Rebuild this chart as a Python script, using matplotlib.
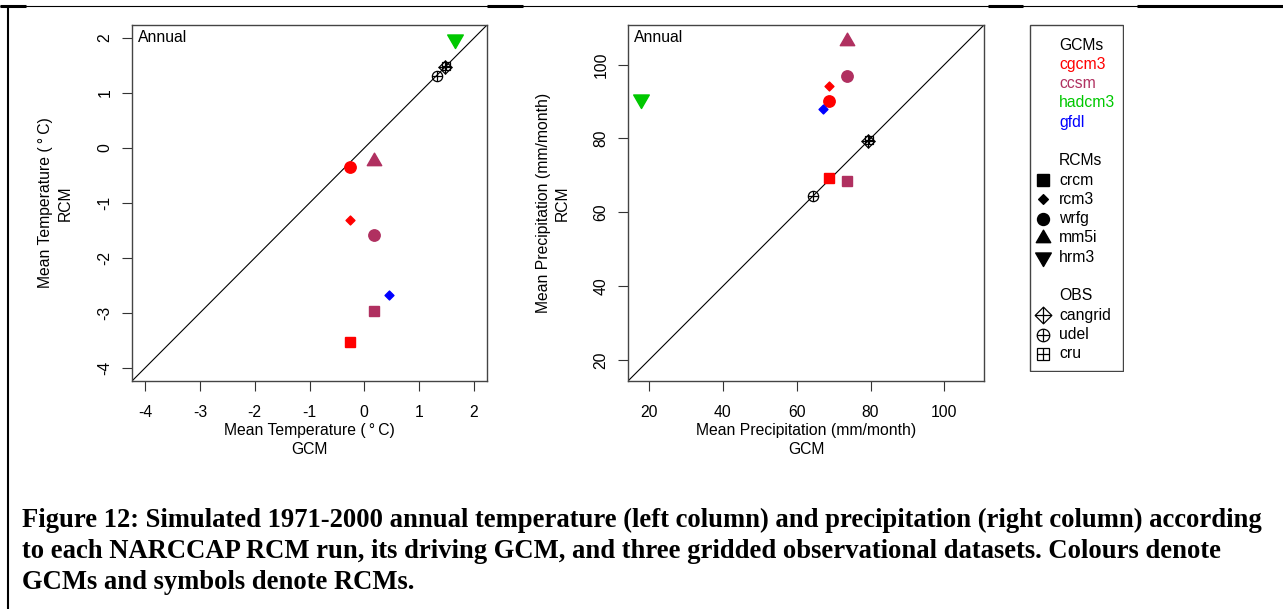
import matplotlib
matplotlib.use("Agg")
import matplotlib.pyplot as plt
from matplotlib.lines import Line2D
from matplotlib.path import Path
from matplotlib.patches import Rectangle

plt.rcParams['font.family'] = ['Liberation Sans', 'DejaVu Sans']

# ---- data -------------------------------------------------------------
gcm_names = ['cgcm3', 'ccsm', 'hadcm3', 'gfdl']
gcm_colors = ['#FF0000', '#B03060', '#00C800', '#0000FF']
rcm_names = ['crcm', 'rcm3', 'wrfg', 'mm5i', 'hrm3']
obs_names = ['cangrid', 'udel', 'cru']

# NARCCAP runs: driving GCM and RCM for each
run_gcm = ['cgcm3', 'cgcm3', 'cgcm3', 'ccsm', 'ccsm', 'ccsm', 'hadcm3', 'gfdl']
run_rcm = ['crcm', 'rcm3', 'wrfg', 'crcm', 'wrfg', 'mm5i', 'hrm3', 'rcm3']

# annual mean temperature (deg C)
temp_gcm = {'cgcm3': -0.26, 'ccsm': 0.17, 'hadcm3': 1.66, 'gfdl': 0.46}
temp_rcm = [-3.53, -1.31, -0.35, -2.97, -1.58, -0.23, 1.99, -2.68]
temp_obs = [1.47, 1.32, 1.50]

# annual mean precipitation (mm/month)
prec_gcm = {'cgcm3': 68.9, 'ccsm': 73.7, 'hadcm3': 18.0, 'gfdl': 67.2}
prec_rcm = [69.3, 94.3, 90.1, 68.4, 97.0, 106.5, 90.6, 88.0]
prec_obs = [79.3, 64.4, 79.5]

# ---- marker shapes ------------------------------------------------------
tri_up = Path([(0, 1), (0.866, -0.5), (-0.866, -0.5), (0, 1)], closed=True)
tri_dn = Path([(0, -1), (0.866, 0.5), (-0.866, 0.5), (0, -1)], closed=True)
diam = Path([(0, 1), (1, 0), (0, -1), (-1, 0), (0, 1)], closed=True)

rcm_style = {
    'crcm': dict(marker='s', ms=7.5),
    'rcm3': dict(marker=diam, ms=6.4),
    'wrfg': dict(marker='o', ms=8.2),
    'mm5i': dict(marker=tri_up, ms=12.0),
    'hrm3': dict(marker=tri_dn, ms=13.0),
}
gcm_color = dict(zip(gcm_names, gcm_colors))

W, H = 1283, 609
fig = plt.figure(figsize=(W / 100, H / 100), dpi=100)


def px_ax(x0, y0, x1, y1):
    return fig.add_axes([x0 / W, 1 - y1 / H, (x1 - x0) / W, (y1 - y0) / H])


def draw_obs(ax, name, v, scale=1.0, lw=0.9):
    kw = dict(color='black', mfc='none', mew=lw, ls='none', zorder=4)
    if name == 'cangrid':
        ax.plot([v], [v], marker=diam, ms=9.4 * scale, **kw)
        ax.plot([v], [v], marker='+', ms=9.4 * scale, **kw)
    elif name == 'udel':
        ax.plot([v], [v], marker='o', ms=7.4 * scale, **kw)
        ax.plot([v], [v], marker='+', ms=7.4 * scale, **kw)
    else:
        ax.plot([v], [v], marker='s', ms=6.4 * scale, **kw)
        ax.plot([v], [v], marker='+', ms=6.4 * scale, **kw)


def panel(ax, gvals, rvals, ovals, lims, ticks):
    ax.set_xlim(lims)
    ax.set_ylim(lims)
    ax.axline((lims[0], lims[0]), slope=1, color='black', lw=0.8, zorder=1)
    for g, r, v in zip(run_gcm, run_rcm, rvals):
        st = rcm_style[r]
        ax.plot([gvals[g]], [v], ls='none', marker=st['marker'], ms=st['ms'],
                color=gcm_color[g], mec=gcm_color[g], zorder=3)
    for name, v in zip(obs_names, ovals):
        draw_obs(ax, name, v)
    ax.set_xticks(ticks)
    ax.set_yticks(ticks)
    ax.set_xticklabels([str(t) for t in ticks])
    ax.set_yticklabels([str(t) for t in ticks], rotation=90, va='center')
    ax.tick_params(length=7, width=0.8, color='#333333', labelsize=11.3)
    ax.tick_params(axis='x', pad=10)
    ax.tick_params(axis='y', pad=7)
    for s in ax.spines.values():
        s.set_color('#444444')
        s.set_linewidth(1.0)
    ax.text(0.018, 0.985, 'Annual', transform=ax.transAxes, fontsize=11.3,
            ha='left', va='top')


ax1 = px_ax(132, 25, 487, 381)
panel(ax1, temp_gcm, temp_rcm, temp_obs, (-4.24, 2.24),
      [-4, -3, -2, -1, 0, 1, 2])
ax2 = px_ax(628, 25, 984, 381)
panel(ax2, prec_gcm, prec_rcm, prec_obs, (14.4, 110.7),
      [20, 40, 60, 80, 100])


def ftext(x, y, s, **kw):
    fig.text(x / W, 1 - y / H, s, **kw)


tlabel = 'Mean Temperature (\u2009°\u2009C)'
plabel = 'Mean Precipitation (mm/month)'
# axis titles (two lines each)
ftext(309.5, 430, tlabel, ha='center', va='center', fontsize=11.3)
ftext(309.5, 449.3, 'GCM', ha='center', va='center', fontsize=11.3)
ftext(45.7, 203, tlabel, ha='center', va='center', rotation=90, fontsize=11.3)
ftext(65, 203, 'RCM', ha='center', va='center', rotation=90, fontsize=11.3)
ftext(806, 430, plabel, ha='center', va='center', fontsize=11.3)
ftext(806, 449.3, 'GCM', ha='center', va='center', fontsize=11.3)
ftext(543.3, 203, plabel, ha='center', va='center', rotation=90, fontsize=11.3)
ftext(562.7, 203, 'RCM', ha='center', va='center', rotation=90, fontsize=11.3)

# ---- key box ------------------------------------------------------------
lx0, ly0, lx1, ly1 = 1029, 24.3, 1123.7, 371.7
lax = px_ax(lx0, ly0, lx1, ly1)
lax.set_xlim(lx0, lx1)
lax.set_ylim(ly1, ly0)
lax.axis('off')
lax.add_patch(Rectangle((lx0 + 0.5, ly0 + 0.5), lx1 - lx0 - 1, ly1 - ly0 - 1,
                        fill=False, ec='#444444', lw=1.0))
row0, step = 45.0, 19.3
tx, mx = 1059, 1043


def row(i):
    return row0 + i * step


lax.text(tx, row(0), 'GCMs', va='center', ha='left', fontsize=11.3)
for i, (g, c) in enumerate(zip(gcm_names, gcm_colors)):
    lax.text(tx, row(1 + i), g, va='center', ha='left', fontsize=11.3, color=c)
lax.text(tx, row(6), 'RCMs', va='center', ha='left', fontsize=11.3)
key_ms = {'crcm': 8.0, 'rcm3': 7.0, 'wrfg': 8.6, 'mm5i': 12.0, 'hrm3': 13.0}
for i, r in enumerate(rcm_names):
    lax.text(tx, row(7 + i), r, va='center', ha='left', fontsize=11.3)
    lax.plot([mx], [row(7 + i)], marker=rcm_style[r]['marker'], ms=key_ms[r],
             color='black', ls='none')
lax.text(tx, row(13), 'OBS', va='center', ha='left', fontsize=11.3)
for i, name in enumerate(obs_names):
    y = row(14 + i)
    lax.text(tx, y, name, va='center', ha='left', fontsize=11.3)
    kw = dict(color='black', mfc='none', mew=0.9, ls='none')
    if name == 'cangrid':
        lax.plot([mx], [y], marker=diam, ms=12.0, **kw)
        lax.plot([mx], [y], marker='+', ms=12.0, **kw)
    elif name == 'udel':
        lax.plot([mx], [y], marker='o', ms=9.0, **kw)
        lax.plot([mx], [y], marker='+', ms=9.0, **kw)
    else:
        lax.plot([mx], [y], marker='s', ms=8.6, **kw)
        lax.plot([mx], [y], marker='+', ms=8.6, **kw)


# ---- page rules ---------------------------------------------------------
def pline(xs, ys, lw):
    fig.add_artist(Line2D([x / W for x in xs], [1 - y / H for y in ys],
                          color='black', lw=lw, solid_capstyle='butt'))


pline([0, W], [5.5, 5.5], 0.8)
for a, b in [(0, 26), (487, 523), (988, 1023), (1137, W)]:
    pline([a, b], [5.5, 5.5], 2.2)
pline([7.5, 7.5], [5, H], 1.5)

# ---- caption ------------------------------------------------------------
caption = [
    'Figure 12: Simulated 1971-2000 annual temperature (left column) and precipitation (right column) according',
    'to each NARCCAP RCM run, its driving GCM, and three gridded observational datasets. Colours denote',
    'GCMs and symbols denote RCMs.',
]
for i, line in enumerate(caption):
    ftext(22, 527 + i * 30.8, line, ha='left', va='baseline',
          fontsize=19.2, fontweight='bold', family='Liberation Serif')

fig.savefig('out.png', dpi=100)
